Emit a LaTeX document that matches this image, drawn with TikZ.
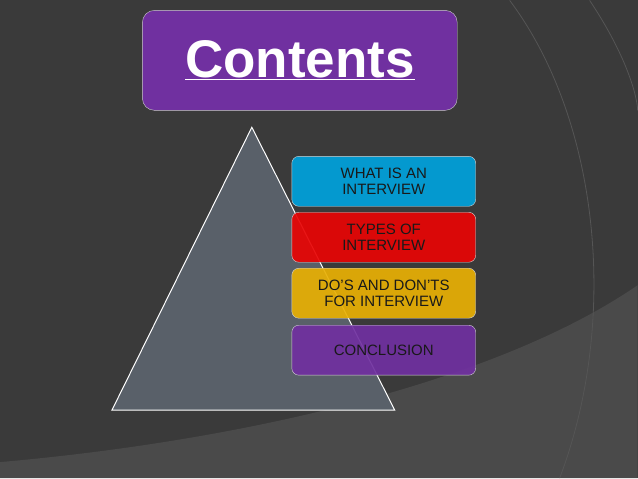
\documentclass[tikz,border=0pt]{standalone}
\usepackage{fontspec}
\setmainfont{Liberation Sans}
\definecolor{bgdark}{HTML}{3A3A3A}
\definecolor{bglight}{HTML}{4A4A4A}
\definecolor{arcgray}{HTML}{555555}
\definecolor{titlepurple}{HTML}{7030A0}
\definecolor{trigray}{HTML}{596069}
\definecolor{itemcyan}{HTML}{00A2DC}
\definecolor{itemred}{HTML}{E80404}
\definecolor{itemgold}{HTML}{E8B004}
\definecolor{itempurple}{HTML}{7030A0}
\begin{document}
\begin{tikzpicture}[x=1pt,y=-1pt,
  itembox/.style={draw=white!65!gray,rounded corners=7pt,minimum width=184pt,minimum height=50pt,align=center,font=\fontsize{15}{16}\selectfont,text=black!90,fill opacity=0.92,text opacity=1}]
 %Background
 \fill[bgdark] (0,0) rectangle (638,478);
 \fill[bglight] (0,478) -- (0,462) .. controls (250,440) and (500,380) .. (638,285) -- (638,478) -- cycle;
 \draw[arcgray,line width=0.8pt] (510,0) .. controls (600,120) and (620,320) .. (560,478);
 \draw[arcgray,line width=0.8pt] (590,0) .. controls (630,60) and (638,100) .. (638,110);
 \useasboundingbox (0,0) rectangle (638,478);

 %Title
 \node (title) [fill=titlepurple,draw=white!60!gray,rounded corners=12pt,minimum width=315pt,minimum height=100pt,text=white,font=\fontsize{53}{56}\bfseries\selectfont] at (300,60) {\underline{Contents}};

 %Triangle
 \coordinate (apex) at (252,127);
 \coordinate (baseL) at (112,410);
 \coordinate (baseR) at (395,410);
 \filldraw[fill=trigray,draw=white,line width=1pt] (apex) -- (baseL) -- (baseR) -- cycle;

 %Items
 \node (what) [itembox,fill=itemcyan] at (384,181) {WHAT IS AN\\INTERVIEW};
 \node (types) [itembox,fill=itemred] at (384,237) {TYPES OF\\INTERVIEW};
 \node (dos) [itembox,fill=itemgold] at (384,293) {DO’S AND DON’TS\\FOR INTERVIEW};
 \node (concl) [itembox,fill=itempurple] at (384,350) {CONCLUSION};
\end{tikzpicture}
\end{document}
